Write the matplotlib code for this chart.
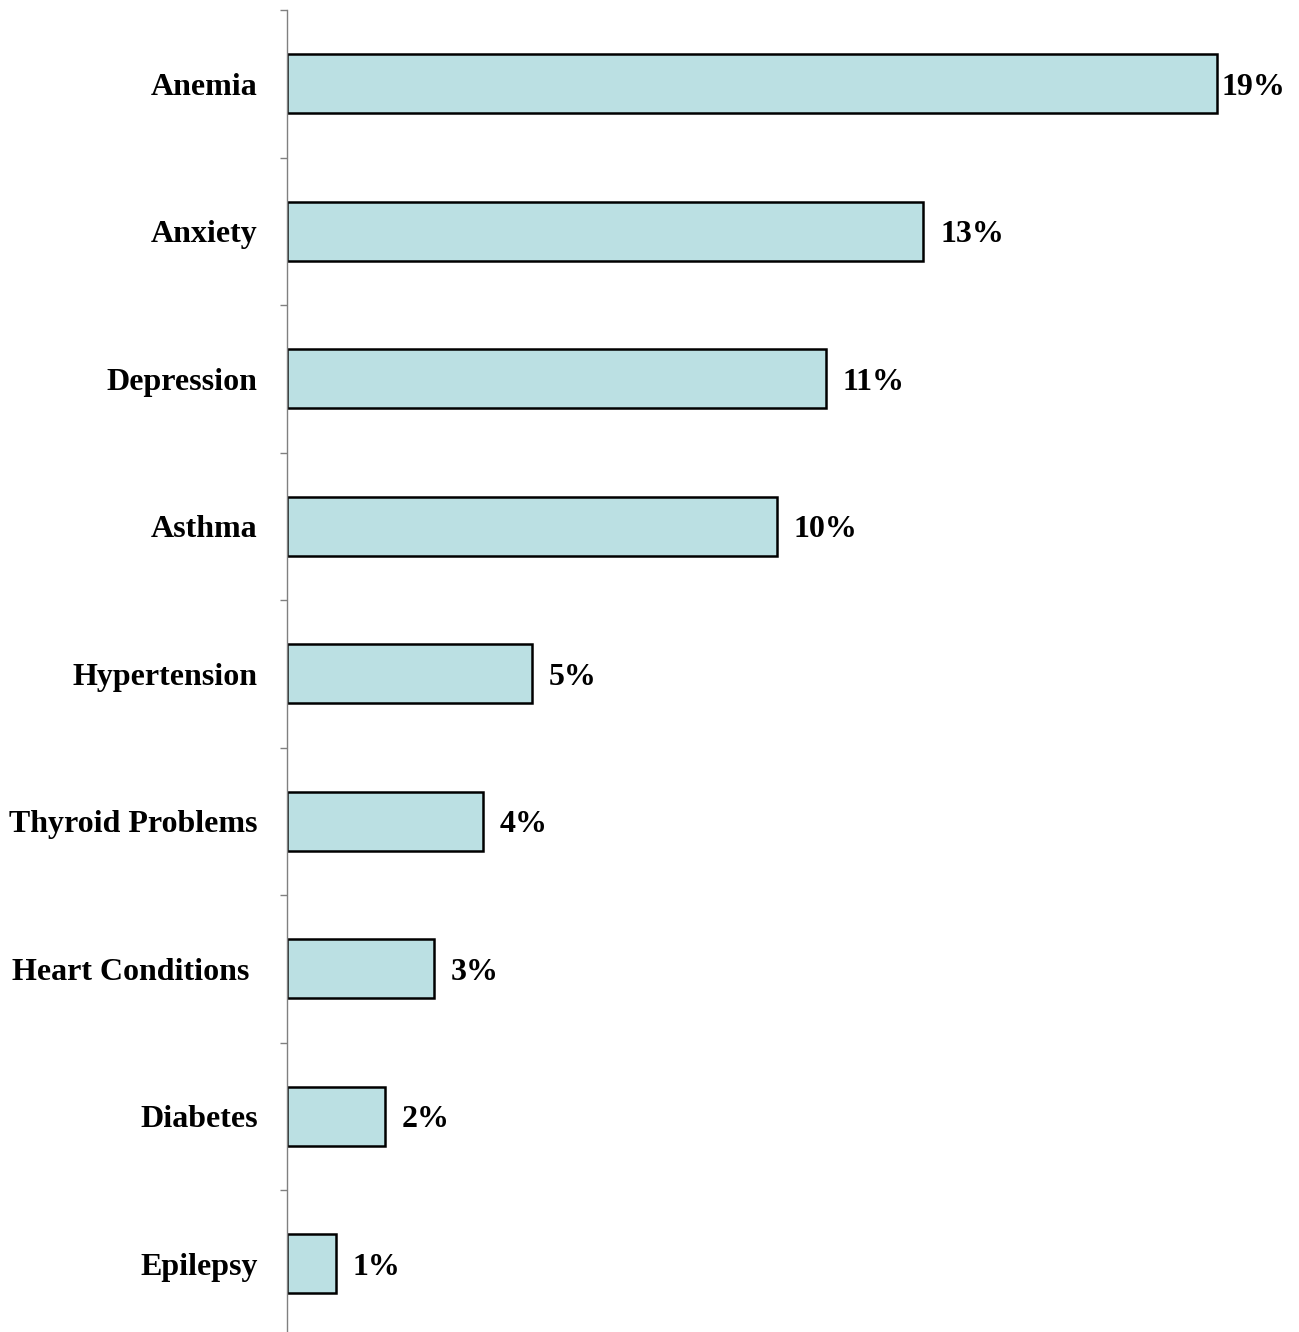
import numpy as np
import matplotlib.pyplot as plt

conditions = ['Anemia', 'Anxiety', 'Depression', 'Asthma', 'Hypertension',
              'Thyroid Problems', 'Heart Conditions ', 'Diabetes', 'Epilepsy']
percent = [19, 13, 11, 10, 5, 4, 3, 2, 1]

plt.rcParams['font.family'] = 'Liberation Serif'
plt.rcParams['font.weight'] = 'bold'

fig = plt.figure(figsize=(12.99, 13.32), dpi=100)
ax = fig.add_axes([0.2209, -0.0042, 0.7791, 0.9967])

y = np.arange(len(conditions))
ax.barh(y, percent, height=0.4, color='#BBE0E3', edgecolor='black', linewidth=1.8)

ax.set_xlim(0, 20.67)
ax.set_ylim(len(conditions) - 0.5, -0.5)

# category labels without visible major ticks, ticks drawn between bars
ax.set_yticks(y)
ax.set_yticklabels(conditions, fontsize=23, fontweight='bold')
ax.tick_params(axis='y', which='major', length=0, pad=21)
ax.set_yticks(np.arange(-0.5, len(conditions), 1), minor=True)
ax.tick_params(axis='y', which='minor', length=5, width=1, color='#808080', direction='out')

ax.set_xticks([])
for s in ['top', 'right', 'bottom']:
    ax.spines[s].set_visible(False)
ax.spines['left'].set_color('#808080')
ax.spines['left'].set_linewidth(1)

for yi, v in zip(y, percent):
    pad = 3 if v == max(percent) else 12
    ax.annotate('%d%%' % v, (v, yi), xytext=(pad, 0), textcoords='offset points',
                va='center_baseline', ha='left', fontsize=23, fontweight='bold')

fig.savefig('out.png', dpi=100)
